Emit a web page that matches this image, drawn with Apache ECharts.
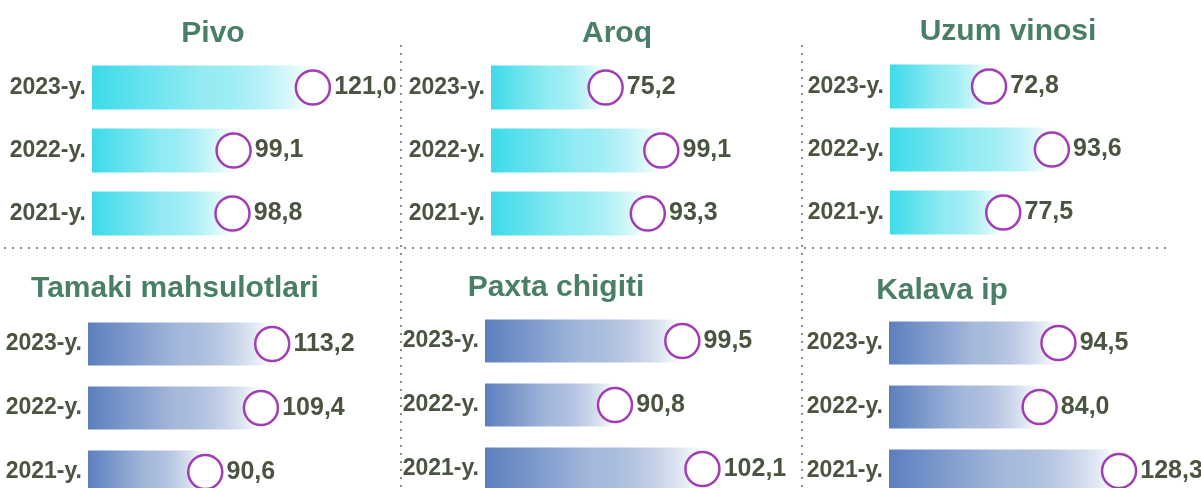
<!DOCTYPE html>
<html>
<head>
<meta charset="utf-8">
<script src="https://cdn.jsdelivr.net/npm/echarts@6/dist/echarts.min.js"></script>
<style>
  html, body { margin: 0; padding: 0; background: #fff; }
  #chart { width: 1201px; height: 488px; }
</style>
</head>
<body>
<div id="chart"></div>
<script>
const years = ['2021-y.', '2022-y.', '2023-y.'];

const titles = ['Pivo', 'Aroq', 'Uzum vinosi', 'Tamaki mahsulotlari', 'Paxta chigiti', 'Kalava ip'];

// values per panel, in the order of years
const pivo = [98.8, 99.1, 121.0];
const aroq = [93.3, 99.1, 75.2];
const uzumVinosi = [77.5, 93.6, 72.8];
const tamaki = [90.6, 109.4, 113.2];
const paxtaChigiti = [102.1, 90.8, 99.5];
const kalavaIp = [128.3, 84.0, 94.5];

const panelValues = [pivo, aroq, uzumVinosi, tamaki, paxtaChigiti, kalavaIp];

// axis ranges per panel (min, max)
const axisMin = [60, 26, 40, 51, 74, 0];
const axisMax = [131.8, 137.6, 126.1, 138.8, 107.6, 145];

const cyan = '#3cdbe9';
const blue = '#5b7fbe';
const ringColor = '#a23db5';
const textColor = '#4a5541';
const titleColor = '#4a7f67';
const labelFont = "'Liberation Sans', Arial, sans-serif";

// layout of the six panels
const panels = [
  { left: 92, top: 56, height: 189, barWidth: 44, color: cyan, titleX: 208, titleY: 14 },
  { left: 491, top: 56, height: 189, barWidth: 44, color: cyan, titleX: 612, titleY: 14 },
  { left: 890, top: 55, height: 189, barWidth: 44, color: cyan, titleX: 1003, titleY: 12 },
  { left: 88, top: 312, height: 192, barWidth: 43, color: blue, titleX: 170, titleY: 269 },
  { left: 485, top: 309, height: 192, barWidth: 43, color: blue, titleX: 551, titleY: 268 },
  { left: 889, top: 311, height: 192, barWidth: 43, color: blue, titleX: 937, titleY: 271 },
];

const fmt = (v) => v.toFixed(1).replace('.', ',');

function gradient(color) {
  return new echarts.graphic.LinearGradient(0, 0, 1, 0, [
    { offset: 0, color: color },
    { offset: 0.5, color: echarts.color.modifyAlpha(color, 0.55) },
    { offset: 1, color: 'rgba(255,255,255,1)' },
  ]);
}

const grid = [];
const xAxis = [];
const yAxis = [];
const series = [];
const title = [];

panels.forEach((p, i) => {
  grid.push({
    left: p.left, top: p.top, width: 260, height: p.height, outerBoundsMode: 'none', containLabel: false,
  });
  xAxis.push({
    type: 'value', gridIndex: i, min: axisMin[i], max: axisMax[i], show: false,
  });
  yAxis.push({
    type: 'category',
    gridIndex: i,
    data: years,
    axisLine: { show: false },
    axisTick: { show: false },
    axisLabel: {
      margin: 6,
      color: textColor,
      fontFamily: labelFont,
      fontWeight: 'bold',
      fontSize: 23,
    },
  });
  title.push({
    text: titles[i],
    left: p.titleX,
    top: p.titleY,
    textAlign: 'center',
    textStyle: {
      color: titleColor, fontFamily: labelFont, fontWeight: 'bold', fontSize: 30,
    },
  });
  series.push({
    type: 'bar',
    xAxisIndex: i,
    yAxisIndex: i,
    barWidth: p.barWidth,
    data: panelValues[i],
    itemStyle: { color: gradient(p.color) },
    silent: true,
  });
  series.push({
    type: 'scatter',
    xAxisIndex: i,
    yAxisIndex: i,
    symbol: 'circle',
    symbolSize: 34,
    z: 5,
    data: panelValues[i].map((v, k) => [v, k]),
    itemStyle: { color: '#fff', borderColor: ringColor, borderWidth: 2.5, opacity: 1 },
    label: {
      show: true,
      position: 'right',
      distance: 3,
      formatter: (d) => fmt(d.value[0]),
      color: textColor,
      fontFamily: labelFont,
      fontWeight: 'bold',
      fontSize: 25,
    },
  });
});

const dotted = { stroke: '#8a8a8a', lineWidth: 2, lineDash: [2, 6] };

const chart = echarts.init(document.getElementById('chart'));
chart.setOption({
  animation: false,
  backgroundColor: '#fff',
  title,
  grid,
  xAxis,
  yAxis,
  series,
  graphic: [
    { type: 'line', shape: { x1: 4, y1: 248, x2: 1170, y2: 248 }, style: dotted },
    { type: 'line', shape: { x1: 401, y1: 45, x2: 401, y2: 488 }, style: dotted },
    { type: 'line', shape: { x1: 802, y1: 45, x2: 802, y2: 488 }, style: dotted },
  ],
});
</script>
</body>
</html>
